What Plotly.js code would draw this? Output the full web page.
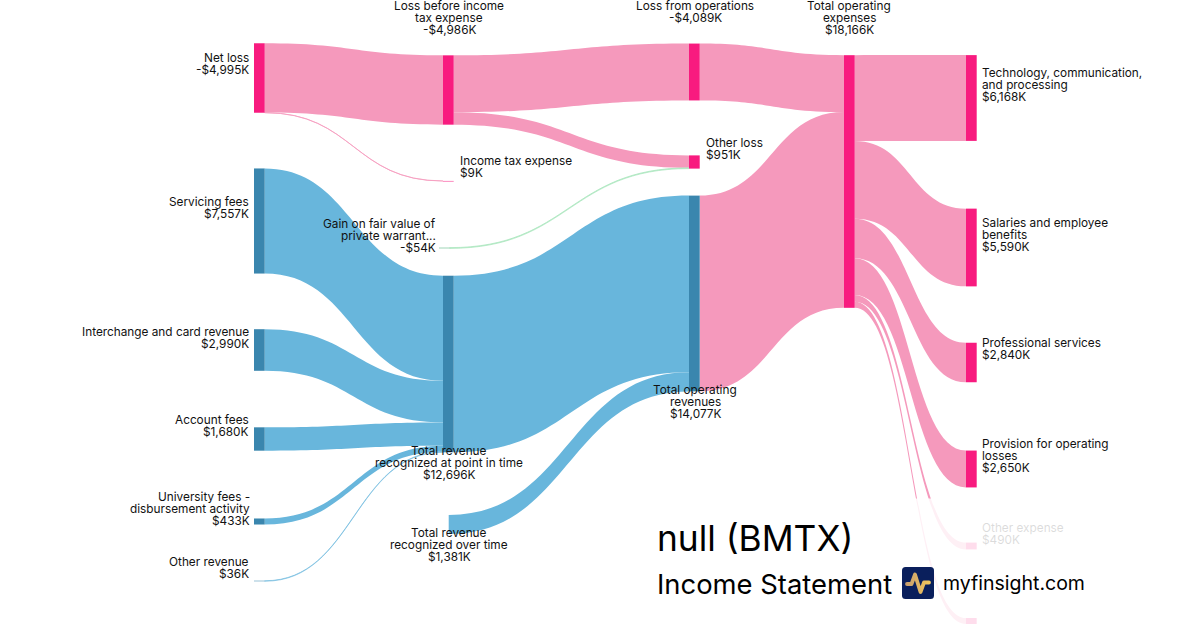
<!DOCTYPE html>
<html><head><meta charset="utf-8">
<script src="https://cdn.plot.ly/plotly-3.0.1.min.js"></script>
<style>html,body{margin:0;padding:0;background:#fff}#chart{width:1200px;height:630px}
#logo{position:absolute;left:902px;top:567px;width:32px;height:32px}</style></head>
<body><div id="chart"></div>
<svg id="logo" viewBox="0 0 32 32"><defs><linearGradient id="g" x1="0" x2="1"><stop offset="0" stop-color="#c9a06e"/><stop offset="1" stop-color="#f2c65c"/></linearGradient></defs><rect width="32" height="32" rx="3.5" fill="#0a1f5c"/><path d="M5 17H9.5L13 7.5L18.5 25L22 15.5H27" fill="none" stroke="url(#g)" stroke-width="3.8" stroke-linejoin="round" stroke-linecap="round"/></svg>
<script>
var nodeNames = ["Net loss","Loss before income<br>tax expense","Loss from operations","Total operating<br>expenses","Income tax expense","Other loss","Gain on fair value of<br>private warrant...","Servicing fees","Interchange and card revenue","Account fees","University fees -<br>disbursement activity","Other revenue","Total revenue<br>recognized at point in time","Total revenue<br>recognized over time","Total operating<br>revenues","Technology, communication,<br>and processing","Salaries and employee<br>benefits","Professional services","Provision for operating<br>losses","Other expense",""];
var nodeAmounts = ["-$4,995K","-$4,986K","-$4,089K","$18,166K","$9K","$951K","-$54K","$7,557K","$2,990K","$1,680K","$433K","$36K","$12,696K","$1,381K","$14,077K","$6,168K","$5,590K","$2,840K","$2,650K","$490K",""];
var linkSources = [0,0,1,1,2,6,7,8,9,10,11,12,13,14,3,3,3,3,3,3];
var linkTargets = [1,4,2,5,3,5,12,12,12,12,12,14,14,3,15,16,17,18,19,20];
var linkValues = [4986,9,4089,897,4089,54,7557,2990,1680,433,36,12696,1381,14077,6168,5590,2840,2650,490,428];
var nodeLeft = [254,443,689,844,443,689,439,254,254,254,254,254,443,438,689,966,966,966,966,966,966];
var nodeMid = [78,90,72,181.5,181,162,248,221,350,439,521.5,581,364,524.5,293.5,98,247.5,362.5,469,546,621];
var PINK="#f81b7f",BLUE="#3a86ae",GREEN="#80c8a0";
var nodeColors=[PINK,PINK,PINK,PINK,PINK,PINK,GREEN,BLUE,BLUE,BLUE,BLUE,BLUE,BLUE,"rgba(0,0,0,0)",BLUE,PINK,PINK,PINK,PINK,PINK,PINK];
var LP="#f599bc",LB="#68b6dc",LG="rgba(168,230,188,0.7)",LPT="rgba(245,153,188,0.7)",LBT="rgba(104,182,220,0.55)";
var linkColors=[LP,LPT,LP,LP,LP,LG,LB,LB,LB,LB,LBT,LB,LB,LP,LP,LP,LP,LP,LP,LP];
var W=1200,H=630,T=10.7,LH=12;
var annos=[];
function lab(i,px,py,anchor){(nodeNames[i]+'<br>'+nodeAmounts[i]).split('<br>').forEach(function(t,k){annos.push({xref:'paper',yref:'paper',x:px/W,y:1-(py+k*LH)/H,xanchor:anchor,yanchor:'middle',showarrow:false,align:anchor,text:t,font:{family:'Inter',size:11.8,color:'#111'},borderpad:0,borderwidth:0});});}
[[0,249,58,'right'],[1,449,6,'center'],[2,695,6,'center'],[3,849,6,'center'],[4,460,161,'left'],[5,706,143,'left'],[6,436,224,'right'],[7,249,202,'right'],[8,249,332,'right'],[9,249,420,'right'],[10,250,497,'right'],[11,249,562,'right'],[12,449,451,'center'],[13,449,533,'center'],[14,695,390,'center'],[15,982,73,'left'],[16,982,223,'left'],[17,982,343,'left'],[18,982,444,'left'],[19,982,528,'left']].forEach(function(a){lab.apply(null,a)});
annos.push({xref:'paper',yref:'paper',x:1,y:0,xanchor:'right',yanchor:'bottom',width:560,height:130,text:'&#160;',showarrow:false,bgcolor:'rgba(255,255,255,0.85)',borderpad:0});
annos.push({xref:'paper',yref:'paper',x:656/W,y:1-538/H,xanchor:'left',yanchor:'middle',text:'null (BMTX)',showarrow:false,borderpad:0,font:{family:'Inter',size:35.3,color:'#000'}});
annos.push({xref:'paper',yref:'paper',x:656/W,y:1-584/H,xanchor:'left',yanchor:'middle',text:'Income Statement',showarrow:false,borderpad:0,font:{family:'Inter',size:27.4,color:'#000'}});
annos.push({xref:'paper',yref:'paper',x:941.5/W,y:1-583/H,xanchor:'left',yanchor:'middle',text:'myfinsight.com',showarrow:false,borderpad:0,font:{family:'Inter',size:19.5,color:'#000'}});
Plotly.newPlot('chart',[{type:'sankey',arrangement:'fixed',domain:{x:[0,1],y:[0,1]},hoverinfo:'skip',
 node:{label:nodeNames.map(function(){return ''}),pad:52,thickness:T,color:nodeColors,line:{width:0},x:nodeLeft.map(function(v){return (v+T/2)/W}),y:nodeMid.map(function(v){return v/H}),hoverinfo:'skip'},
 link:{source:linkSources,target:linkTargets,value:linkValues,color:linkColors,line:{width:0},hoverinfo:'skip'}}],
 {width:W,height:H,margin:{l:0,r:0,t:0,b:0},paper_bgcolor:'#fff',annotations:annos,showlegend:false},{displayModeBar:false,staticPlot:true});
</script></body></html>
